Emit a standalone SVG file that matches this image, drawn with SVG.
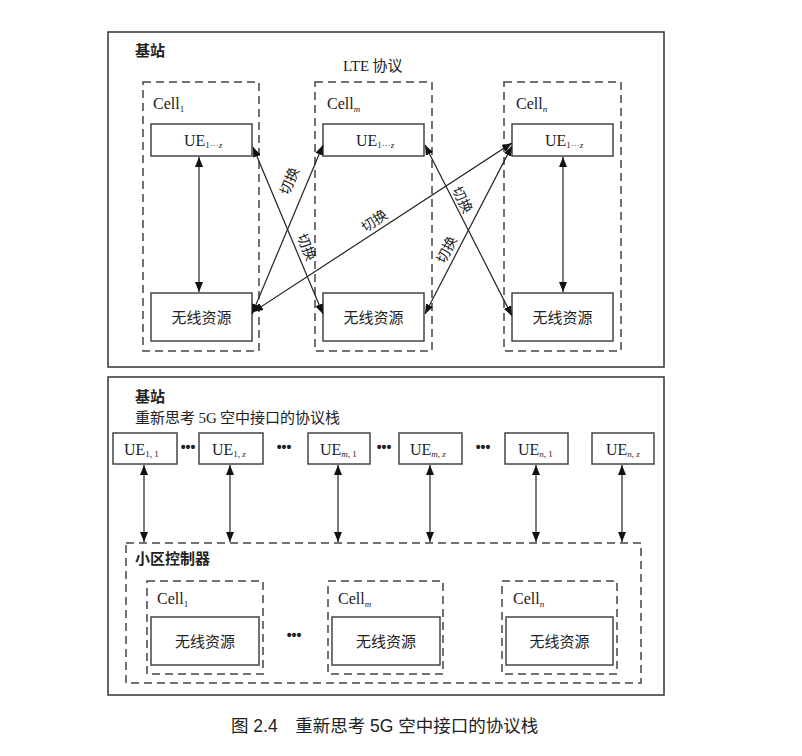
<svg xmlns="http://www.w3.org/2000/svg" width="802" height="756" viewBox="0 0 802 756">
<defs>
<style>
.frame{fill:#fff;stroke:#333;stroke-width:1.5}
.dash{fill:none;stroke:#444;stroke-width:1.5;stroke-dasharray:8 5}
.box{fill:#fff;stroke:#444;stroke-width:1.5}
.ln{fill:none;stroke:#222;stroke-width:1.2;marker-start:url(#ah);marker-end:url(#ah)}
.t{font-family:"Liberation Serif","Noto Sans CJK SC",serif;fill:#222}
.zh{font-family:"Noto Sans CJK SC",sans-serif;fill:#222}
.sub{font-size:9px}
.it{font-style:italic}
.dots{font-family:"Liberation Sans",sans-serif;font-size:14px;font-weight:bold;fill:#222}
</style>
<marker id="ah" viewBox="0 0 10 8" refX="10" refY="4" markerWidth="10" markerHeight="8" markerUnits="userSpaceOnUse" orient="auto-start-reverse">
<path d="M0,0 L10,4 L0,8 Z" fill="#111"/>
</marker>
</defs>
<rect width="802" height="756" fill="#fff"/>

<!-- Top panel -->
<g id="lte-station">
<rect class="frame" x="108" y="32" width="556" height="335"/>
<text class="zh" x="135" y="56" font-size="15" font-weight="bold">基站</text>
<text class="zh" x="343" y="71" font-size="15"><tspan class="t" font-size="15">LTE</tspan> 协议</text>
</g>
<g id="cell1-top">
<rect class="dash" x="143" y="82" width="116" height="269"/>
<text class="t" x="153" y="109" font-size="16">Cell<tspan class="sub" dy="3">1</tspan></text>
</g>
<g id="cellm-top">
<rect class="dash" x="315" y="82" width="117" height="269"/>
<text class="t" x="327" y="109" font-size="16">Cell<tspan class="sub it" dy="3">m</tspan></text>
</g>
<g id="celln-top">
<rect class="dash" x="504" y="82" width="117" height="269"/>
<text class="t" x="516" y="109" font-size="16">Cell<tspan class="sub it" dy="3">n</tspan></text>
</g>
<g id="ue1-top">
<rect class="box" x="151" y="124" width="101" height="32"/>
<text class="t" x="184" y="146" font-size="16">UE<tspan class="sub" dy="2">1···</tspan><tspan class="sub it">z</tspan></text>
</g>
<g id="uem-top">
<rect class="box" x="323" y="124" width="101" height="32"/>
<text class="t" x="356" y="146" font-size="16">UE<tspan class="sub" dy="2">1···</tspan><tspan class="sub it">z</tspan></text>
</g>
<g id="uen-top">
<rect class="box" x="512" y="124" width="101" height="32"/>
<text class="t" x="545" y="146" font-size="16">UE<tspan class="sub" dy="2">1···</tspan><tspan class="sub it">z</tspan></text>
</g>
<g id="radio1-top">
<rect class="box" x="151" y="293" width="101" height="48"/>
<text class="zh" x="201.5" y="323" font-size="15" text-anchor="middle">无线资源</text>
</g>
<g id="radiom-top">
<rect class="box" x="323" y="293" width="101" height="48"/>
<text class="zh" x="373.5" y="323" font-size="15" text-anchor="middle">无线资源</text>
</g>
<g id="radion-top">
<rect class="box" x="512" y="293" width="101" height="48"/>
<text class="zh" x="562.5" y="323" font-size="15" text-anchor="middle">无线资源</text>
</g>

<g id="connectors-top">
<line class="ln" x1="199" y1="157" x2="199" y2="292"/>
<line class="ln" x1="563" y1="157" x2="563" y2="292"/>
<line class="ln" x1="253" y1="147" x2="323" y2="314"/>
<line class="ln" x1="323" y1="145" x2="252" y2="314"/>
<line class="ln" x1="425" y1="145" x2="512" y2="316"/>
<line class="ln" x1="512" y1="146" x2="425" y2="314"/>
<line class="ln" x1="512" y1="143" x2="253" y2="312"/>
<text class="zh" font-size="14" text-anchor="middle" transform="translate(294,183) rotate(-67)">切换</text>
<text class="zh" font-size="14" text-anchor="middle" transform="translate(302,249) rotate(68)">切换</text>
<text class="zh" font-size="14" text-anchor="middle" transform="translate(377,225) rotate(-34)">切换</text>
<text class="zh" font-size="14" text-anchor="middle" transform="translate(458,202) rotate(64)">切换</text>
<text class="zh" font-size="14" text-anchor="middle" transform="translate(451,252) rotate(-63)">切换</text>
</g>

<!-- Bottom panel -->
<g id="5g-station">
<rect class="frame" x="108" y="377" width="556" height="318"/>
<text class="zh" x="135" y="402" font-size="15" font-weight="bold">基站</text>
<text class="zh" x="135" y="423" font-size="15">重新思考 <tspan class="t">5G</tspan> 空中接口的协议栈</text>
</g>
<g id="ue11">
<rect class="box" x="113" y="433" width="64" height="31"/>
<text class="t" x="124" y="455" font-size="16">UE<tspan class="sub" dy="2">1, 1</tspan></text>
</g>
<g id="ue1z">
<rect class="box" x="199" y="433" width="64" height="31"/>
<text class="t" x="212" y="455" font-size="16">UE<tspan class="sub" dy="2">1, </tspan><tspan class="sub it">z</tspan></text>
</g>
<g id="uem1">
<rect class="box" x="308" y="433" width="62" height="31"/>
<text class="t" x="320" y="455" font-size="16">UE<tspan class="sub" dy="2"><tspan class="it">m</tspan>, 1</tspan></text>
</g>
<g id="uemz">
<rect class="box" x="399" y="433" width="63" height="31"/>
<text class="t" x="410" y="455" font-size="16">UE<tspan class="sub it" dy="2">m, z</tspan></text>
</g>
<g id="uen1">
<rect class="box" x="505" y="433" width="63" height="31"/>
<text class="t" x="518" y="455" font-size="16">UE<tspan class="sub" dy="2"><tspan class="it">n</tspan>, 1</tspan></text>
</g>
<g id="uenz">
<rect class="box" x="592" y="433" width="62" height="31"/>
<text class="t" x="606" y="455" font-size="16">UE<tspan class="sub it" dy="2">n, z</tspan></text>
</g>
<g id="ue-dots">
<text class="dots" x="188" y="452" text-anchor="middle">•••</text>
<text class="dots" x="284" y="452" text-anchor="middle">•••</text>
<text class="dots" x="384" y="452" text-anchor="middle">•••</text>
<text class="dots" x="483" y="452" text-anchor="middle">•••</text>
</g>
<g id="controller">
<rect class="dash" x="126" y="543" width="515" height="140"/>
<text class="zh" x="135" y="564" font-size="15" font-weight="bold">小区控制器</text>
</g>
<g id="cell1-bottom">
<rect class="dash" x="147" y="581" width="116" height="93"/>
<text class="t" x="157" y="604" font-size="16">Cell<tspan class="sub" dy="3">1</tspan></text>
<rect class="box" x="151" y="617" width="108" height="48"/>
<text class="zh" x="205" y="647" font-size="15" text-anchor="middle">无线资源</text>
</g>
<g id="cellm-bottom">
<rect class="dash" x="328" y="581" width="115" height="93"/>
<text class="t" x="338" y="604" font-size="16">Cell<tspan class="sub it" dy="3">m</tspan></text>
<rect class="box" x="332" y="617" width="108" height="48"/>
<text class="zh" x="386" y="647" font-size="15" text-anchor="middle">无线资源</text>
</g>
<g id="celln-bottom">
<rect class="dash" x="502" y="581" width="115" height="93"/>
<text class="t" x="513" y="604" font-size="16">Cell<tspan class="sub it" dy="3">n</tspan></text>
<rect class="box" x="506" y="617" width="107" height="48"/>
<text class="zh" x="559.5" y="647" font-size="15" text-anchor="middle">无线资源</text>
</g>
<text class="dots" x="294" y="640" text-anchor="middle">•••</text>

<g id="connectors-bottom">
<line class="ln" x1="144" y1="465" x2="144" y2="542"/>
<line class="ln" x1="230" y1="465" x2="230" y2="542"/>
<line class="ln" x1="338" y1="465" x2="338" y2="542"/>
<line class="ln" x1="430" y1="465" x2="430" y2="542"/>
<line class="ln" x1="536" y1="465" x2="536" y2="542"/>
<line class="ln" x1="622" y1="465" x2="622" y2="542"/>
</g>

<text x="231" y="732" font-family="Liberation Sans, Noto Sans CJK SC, sans-serif" font-size="17.5" fill="#222">图 2.4　重新思考 5G 空中接口的协议栈</text>
</svg>
